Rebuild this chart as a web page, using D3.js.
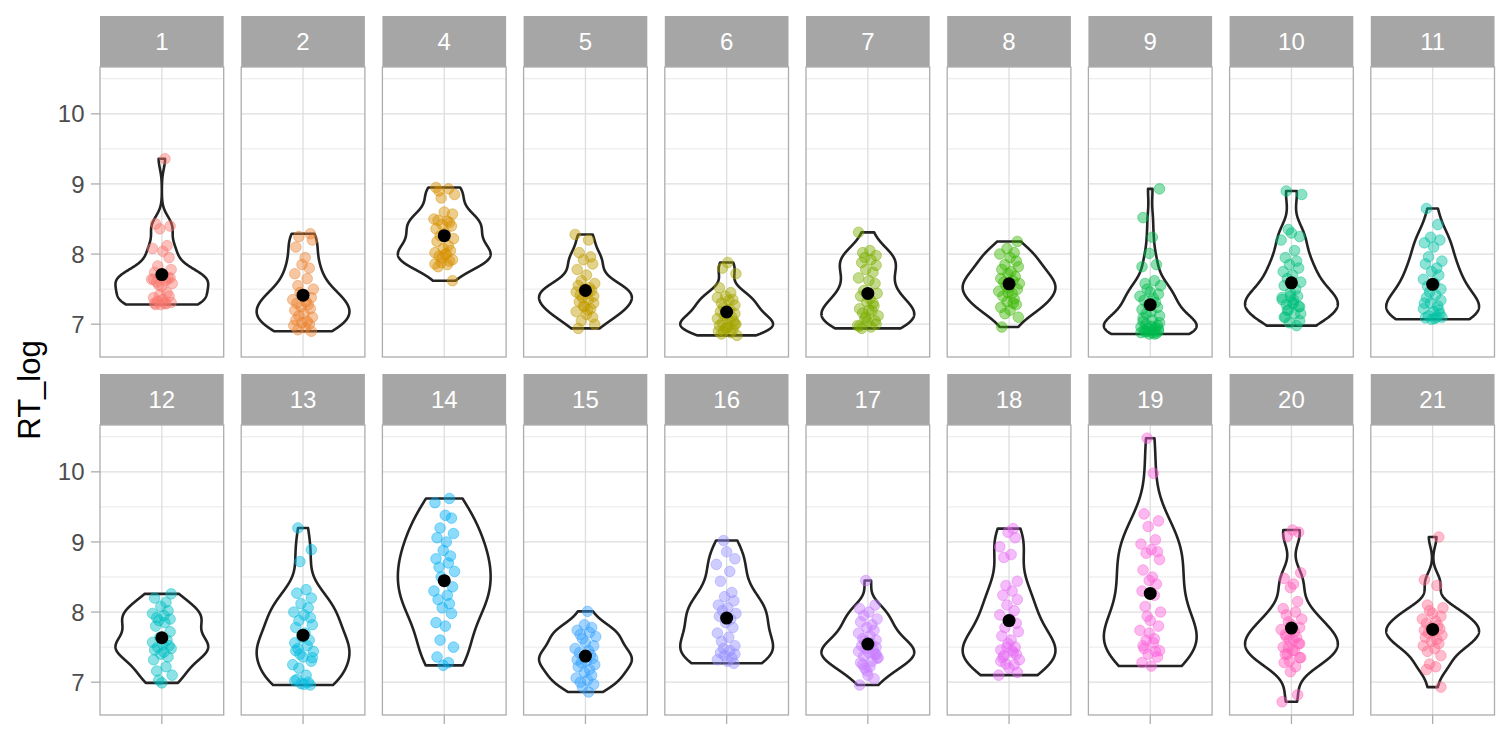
<!DOCTYPE html>
<html><head><meta charset="utf-8">
<script src="https://cdn.jsdelivr.net/npm/d3@7"></script>
<style>
html,body{margin:0;padding:0;background:#fff}
svg{display:block;font-family:"Liberation Sans",Arial,Helvetica,sans-serif}
</style>
</head><body>
<svg id="chart" width="1512" height="756"></svg>
<script>
// ---------------- data ----------------
const subjects = ["1","2","4","5","6","7","8","9","10","11","12","13","14","15","16","17","18","19","20","21"];
const subjectColors = ["#F8766D","#EA8331","#D89000","#C09B00","#A3A500","#7CAE00","#39B600","#00BB4E","#00BF7D","#00C1A3",
                       "#00BFC4","#00BAE0","#00B0F6","#35A2FF","#9590FF","#C77CFF","#E76BF3","#FA62DB","#FF62BC","#FF6C91"];
const yTicks = [7, 8, 9, 10];
const yTickLabels = ["7", "8", "9", "10"];
const yMinorTicks = [6.5, 7.5, 8.5, 9.5, 10.5];
const yTitle = "RT_log";

const rt_s1  = [9.36,8.43,8.40,8.36,8.12,8.08,8.04,7.95,7.83,7.78,7.74,7.70,7.68,7.66,7.64,7.62,7.60,7.58,7.56,7.54,7.66,7.64,7.30,7.28,7.45,7.42,7.40,7.38,7.35,7.33,7.31,7.30,7.29,7.28];
const rt_s2  = [8.29,8.25,8.20,8.10,7.95,7.85,7.80,7.72,7.65,7.55,7.50,7.45,7.40,7.38,7.35,7.32,7.30,7.28,7.25,7.22,7.20,7.15,7.12,7.10,7.06,7.04,7.02,7.00,6.98,6.95,6.92,6.90];
const rt_s4  = [8.95,8.93,8.90,8.85,8.80,8.60,8.57,8.50,8.47,8.48,8.45,8.42,8.40,8.36,8.30,8.26,8.22,8.18,8.12,8.08,8.05,8.02,8.00,7.97,7.92,7.88,7.85,7.82,7.62,7.95,7.90,7.86,8.00];
const rt_s5  = [8.28,8.20,8.02,7.96,7.92,7.86,7.78,7.70,7.62,7.58,7.55,7.52,7.50,7.48,7.46,7.44,7.42,7.40,7.38,7.35,7.32,7.30,7.26,7.22,7.18,7.14,7.10,7.05,7.00,6.94,7.20,7.25];
const rt_s6  = [7.88,7.80,7.72,7.52,7.45,7.40,7.35,7.38,7.34,7.30,7.27,7.24,7.21,7.18,7.15,7.12,7.10,7.08,7.06,7.04,7.02,7.00,6.98,6.96,6.94,6.92,6.90,6.88,6.86,6.84,6.90,6.95,7.00];
const rt_s7  = [8.31,8.05,8.02,7.98,7.95,7.92,7.88,7.84,7.78,7.74,7.66,7.62,7.58,7.48,7.44,7.40,7.36,7.32,7.26,7.22,7.19,7.16,7.12,7.08,7.04,7.00,6.98,6.96,6.94,7.30,7.10,7.05,6.97,7.20];
const rt_s8  = [8.18,8.08,8.02,8.00,7.95,7.90,7.85,7.82,7.78,7.75,7.72,7.68,7.65,7.62,7.60,7.58,7.55,7.52,7.50,7.47,7.44,7.40,7.36,7.32,7.28,7.24,7.20,7.15,7.10,6.96,7.30,7.45];
const rt_s9  = [8.93,8.52,8.24,8.01,7.85,7.82,7.62,7.58,7.55,7.50,7.46,7.43,7.40,7.37,7.34,7.31,7.27,7.24,7.21,7.18,7.15,7.12,7.09,
                6.86,6.86,6.87,6.88,6.88,6.89,6.90,6.90,6.91,6.92,6.93,6.94,6.95,6.96,6.97,6.98,7.00,7.02,7.04,7.06];
const rt_s10 = [8.90,8.85,8.35,8.30,8.25,8.20,8.05,7.95,7.90,7.85,7.80,7.75,7.70,7.65,7.60,7.55,7.50,7.45,7.40,7.35,7.30,7.28,7.25,7.20,7.15,7.10,7.05,7.02,6.98,7.38,7.30,7.25,7.20,7.15,7.10,7.35,7.40];
const rt_s11 = [8.65,8.42,8.24,8.20,8.16,8.10,7.96,7.90,7.86,7.80,7.75,7.70,7.64,7.58,7.54,7.50,7.46,7.42,7.38,7.34,7.30,7.26,7.22,7.18,7.15,7.12,7.10,7.09,7.08,7.07,7.20,7.30,7.10];
const rt_s12 = [8.26,8.20,8.14,8.08,8.02,7.98,7.95,7.92,7.90,7.88,7.85,7.80,7.72,7.64,7.60,7.57,7.54,7.52,7.50,7.48,7.46,7.43,7.40,7.36,7.32,7.22,7.16,7.10,7.03,6.99];
const rt_s13 = [9.20,8.89,8.72,8.32,8.27,8.20,8.12,8.06,8.00,7.96,7.92,7.88,7.82,7.78,7.70,7.64,7.60,7.56,7.52,7.48,7.44,7.40,7.36,7.30,7.25,7.10,7.04,7.00,6.98,6.96,7.02,6.97,7.20,7.35,7.45];
const rt_s14 = [9.62,9.56,9.38,9.34,9.20,9.12,9.06,9.00,8.88,8.80,8.76,8.70,8.64,8.58,8.50,8.44,8.36,8.30,8.24,8.18,8.12,8.06,7.98,7.85,7.80,7.60,7.50,7.36,7.28,7.24];
const rt_s15 = [8.01,7.82,7.78,7.74,7.71,7.68,7.65,7.62,7.56,7.52,7.48,7.45,7.42,7.39,7.36,7.34,7.32,7.30,7.28,7.25,7.22,7.18,7.14,7.10,7.06,7.03,7.00,6.97,6.93,6.86];
const rt_s16 = [9.02,8.86,8.76,8.68,8.58,8.44,8.28,8.22,8.16,8.10,8.06,8.02,7.98,7.94,7.90,7.85,7.78,7.70,7.64,7.58,7.52,7.48,7.45,7.42,7.40,7.38,7.35,7.32,7.30,7.27];
const rt_s17 = [8.45,8.10,8.05,8.00,7.95,7.90,7.86,7.82,7.78,7.74,7.70,7.66,7.62,7.60,7.58,7.55,7.52,7.50,7.48,7.46,7.44,7.42,7.40,7.37,7.34,7.28,7.22,7.16,7.05,6.96,7.30,7.25,7.35,7.20,7.10,7.40];
const rt_s18 = [9.19,9.14,9.06,8.93,8.82,8.78,8.44,8.38,8.30,8.24,8.18,8.10,8.02,7.96,7.90,7.84,7.78,7.72,7.66,7.60,7.55,7.50,7.46,7.42,7.38,7.32,7.26,7.20,7.14,7.10,7.45,7.35,7.25,7.50,7.40,7.30];
const rt_s19 = [10.48,9.98,9.40,9.30,9.22,9.03,8.97,8.89,8.86,8.84,8.75,8.60,8.50,8.45,8.40,8.30,8.24,8.08,8.00,7.94,7.88,7.80,7.74,7.56,7.48,7.44,7.40,7.36,7.28,7.23,7.60,7.45,7.52,7.62,7.70];
const rt_s20 = [9.17,9.14,9.08,8.56,8.48,8.40,8.35,8.15,8.05,8.00,7.96,7.90,7.86,7.82,7.78,7.75,7.72,7.68,7.64,7.60,7.55,7.50,7.45,7.40,7.35,7.28,7.22,7.15,6.82,6.72,7.60,7.65,7.55,7.50,7.45,7.40,7.35,7.30];
const rt_s21 = [9.07,8.46,8.38,8.10,8.06,8.02,7.98,7.94,7.90,7.87,7.84,7.81,7.78,7.76,7.74,7.72,7.70,7.67,7.64,7.61,7.58,7.55,7.52,7.48,7.44,7.38,7.26,7.22,7.18,6.93];

// hand-written horizontal jitter offsets (x units), reused cyclically
const jitterOffsets = [0.03,-0.06,0.08,-0.02,0.05,-0.09,0.01,0.07,-0.04,0.09,-0.07,0.02,-0.01,0.06,-0.08,0.04,-0.05,0.10,-0.03,0.00,
                       0.08,-0.10,0.03,-0.06,0.05,-0.02,0.07,-0.08,0.01,-0.04,0.09,-0.07,0.04,-0.01,0.06,-0.09,0.02,-0.05,0.08,-0.03];

const rtBySubject = [rt_s1,rt_s2,rt_s4,rt_s5,rt_s6,rt_s7,rt_s8,rt_s9,rt_s10,rt_s11,rt_s12,rt_s13,rt_s14,rt_s15,rt_s16,rt_s17,rt_s18,rt_s19,rt_s20,rt_s21];

// ---------------- layout ----------------
const svg = d3.select("#chart");
const nCols = 10;
const colLeft = 100, colStep = 141.2, panelW = 123.7;
const stripTop = 16, stripH = 51, panelH = 290, rowStep = 358;

const allVals = rtBySubject.flat();
const ext = d3.extent(allVals);
const padY = (ext[1] - ext[0]) * 0.05;
const yDomain = [ext[0] - padY, ext[1] + padY];

function bwNrd0(v) {
  const s = v.slice().sort(d3.ascending);
  const sd = d3.deviation(s);
  const iqr = d3.quantile(s, 0.75) - d3.quantile(s, 0.25);
  let lo = Math.min(sd, iqr / 1.34);
  if (!(lo > 0)) lo = sd || 1;
  return 0.9 * lo * Math.pow(s.length, -0.2);
}
function violinProfile(v) {
  const bw = bwNrd0(v);
  const [lo, hi] = d3.extent(v);
  const n = 512, c = 1 / (v.length * bw * Math.sqrt(2 * Math.PI));
  const grid = d3.range(n).map(i => lo + (hi - lo) * i / (n - 1));
  const dens = grid.map(t => c * d3.sum(v, xi => Math.exp(-0.5 * ((t - xi) / bw) ** 2)));
  const dmax = d3.max(dens);
  return grid.map((t, i) => ({ y: t, w: dens[i] / dmax }));
}

const gridCol = "#DEDEDE", borderCol = "#ADADAD", stripCol = "#A6A6A6";

subjects.forEach((subj, k) => {
  const row = Math.floor(k / nCols), col = k % nCols;
  const left = colLeft + col * colStep;
  const sTop = stripTop + row * rowStep;
  const pTop = sTop + stripH;
  const pBot = pTop + panelH;
  const x = d3.scaleLinear().domain([0.4, 1.6]).range([left, left + panelW]);
  const y = d3.scaleLinear().domain(yDomain).range([pBot, pTop]);
  const vals = rtBySubject[k];
  const color = subjectColors[k];
  const g = svg.append("g");

  // strip
  g.append("rect").attr("x", left).attr("y", sTop).attr("width", panelW).attr("height", stripH).attr("fill", stripCol);
  g.append("text").attr("x", left + panelW / 2).attr("y", sTop + stripH / 2 + 8.6)
    .attr("text-anchor", "middle").attr("fill", "#fff").attr("font-size", 24).text(subj);

  // panel background + grid
  g.append("rect").attr("x", left).attr("y", pTop).attr("width", panelW).attr("height", panelH).attr("fill", "#fff");
  yMinorTicks.filter(v => v > yDomain[0] && v < yDomain[1]).forEach(v => {
    g.append("line").attr("x1", left).attr("x2", left + panelW).attr("y1", y(v)).attr("y2", y(v))
      .attr("stroke", gridCol).attr("stroke-width", 0.7);
  });
  yTicks.forEach(v => {
    g.append("line").attr("x1", left).attr("x2", left + panelW).attr("y1", y(v)).attr("y2", y(v))
      .attr("stroke", gridCol).attr("stroke-width", 1.3);
  });
  g.append("line").attr("x1", x(1)).attr("x2", x(1)).attr("y1", pTop).attr("y2", pBot)
    .attr("stroke", gridCol).attr("stroke-width", 1.3);

  // violin
  const prof = violinProfile(vals);
  const outline = prof.map(p => [1 - 0.45 * p.w, p.y]).concat(prof.slice().reverse().map(p => [1 + 0.45 * p.w, p.y]));
  const line = d3.line().x(d => x(d[0])).y(d => y(d[1]));
  g.append("path").attr("d", line(outline) + "Z").attr("fill", "none")
    .attr("stroke", "#232323").attr("stroke-width", 2.6).attr("stroke-linejoin", "round");

  // jittered points
  g.selectAll("circle.pt").data(vals).join("circle").attr("class", "pt")
    .attr("cx", (d, i) => x(1 + jitterOffsets[(i + k * 7) % jitterOffsets.length]))
    .attr("cy", d => y(d)).attr("r", 5.3)
    .attr("fill", color).attr("fill-opacity", 0.45)
    .attr("stroke", color).attr("stroke-opacity", 0.45).attr("stroke-width", 1);

  // mean
  g.append("circle").attr("cx", x(1)).attr("cy", y(d3.mean(vals))).attr("r", 6.5).attr("fill", "#000");

  // border
  g.append("rect").attr("x", left).attr("y", pTop).attr("width", panelW).attr("height", panelH)
    .attr("fill", "none").attr("stroke", borderCol).attr("stroke-width", 1.3);

  // y axis (left column)
  if (col === 0) {
    yTicks.forEach((v, i) => {
      g.append("line").attr("x1", left - 9).attr("x2", left).attr("y1", y(v)).attr("y2", y(v))
        .attr("stroke", borderCol).attr("stroke-width", 1.3);
      g.append("text").attr("x", left - 15.5).attr("y", y(v)).attr("dy", "0.36em")
        .attr("text-anchor", "end").attr("fill", "#4D4D4D").attr("font-size", 24).text(yTickLabels[i]);
    });
  }
  // x axis ticks (bottom row)
  if (row === 1) {
    g.append("line").attr("x1", x(1)).attr("x2", x(1)).attr("y1", pBot).attr("y2", pBot + 9)
      .attr("stroke", borderCol).attr("stroke-width", 1.3);
  }
});

svg.append("text").attr("transform", "translate(40,390) rotate(-90)")
  .attr("text-anchor", "middle").attr("fill", "#000").attr("font-size", 31).text(yTitle);
</script>
</body></html>
